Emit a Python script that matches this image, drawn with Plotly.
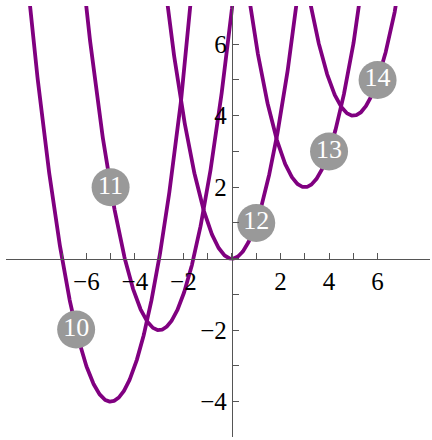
import numpy as np
import plotly.graph_objects as go

# Data: parabolas y = (x - h)^2 + k, labelled by callouts
labels = ["10", "11", "12", "13", "14"]
vertex_x = [-5, -3, 0, 3, 5]
vertex_y = [-4, -2, 0, 2, 4]
label_x = [-6.42, -5.0, 1.0, 4.0, 6.0]

x_ticks = list(range(-7, 7))
y_ticks = list(range(-5, 7))
x_range = [-9.31, 8.16]
y_range = [-4.99, 7.07]

PURPLE = "#800080"
AXIS = "#555555"
FONT = "Liberation Serif"

def fmt(v):
    if v == 0 or v % 2:
        return ""
    return ("\u2212" if v < 0 else "") + str(abs(v))

fig = go.Figure()
xs = np.linspace(x_range[0], x_range[1], 1200)
for h, k in zip(vertex_x, vertex_y):
    fig.add_trace(go.Scatter(x=xs, y=(xs - h) ** 2 + k, mode="lines",
                             line=dict(color=PURPLE, width=3.8),
                             hoverinfo="skip", showlegend=False))

lx = np.array(label_x)
ly = (lx - np.array(vertex_x)) ** 2 + np.array(vertex_y)
fig.add_trace(go.Scatter(x=lx, y=ly, mode="markers+text", text=labels,
                         textposition="middle center",
                         marker=dict(size=38, color="#999999", line=dict(width=0)),
                         textfont=dict(family=FONT, size=26, color="white"),
                         cliponaxis=False, showlegend=False, hoverinfo="skip"))

xpos = (0 - y_range[0]) / (y_range[1] - y_range[0])
ypos = (0 - x_range[0]) / (x_range[1] - x_range[0])

fig.update_layout(
    width=432, height=440,
    margin=dict(l=6, r=2, t=6, b=3, pad=0, autoexpand=False),
    paper_bgcolor="white", plot_bgcolor="white",
    font=dict(family=FONT),
    xaxis=dict(range=x_range, anchor="free", position=xpos, side="bottom",
               automargin=False,
               showgrid=False, zeroline=False, showline=True,
               linecolor=AXIS, linewidth=1.2,
               tickmode="array", tickvals=x_ticks,
               ticktext=[fmt(v) for v in x_ticks],
               ticks="inside", ticklen=6, tickcolor=AXIS, tickwidth=1,
               tickfont=dict(family=FONT, size=25, color="black")),
    yaxis=dict(range=y_range, anchor="free", position=ypos, side="left",
               automargin=False,
               showgrid=False, zeroline=False, showline=True,
               linecolor=AXIS, linewidth=1.2,
               tickmode="array", tickvals=y_ticks,
               ticktext=[fmt(v) for v in y_ticks],
               ticks="inside", ticklen=6, tickcolor=AXIS, tickwidth=1,
               tickfont=dict(family=FONT, size=25, color="black")),
)

fig.write_html("out.html", config={"displayModeBar": False},
               post_script="document.body.style.margin='0';document.body.style.padding='0';")
